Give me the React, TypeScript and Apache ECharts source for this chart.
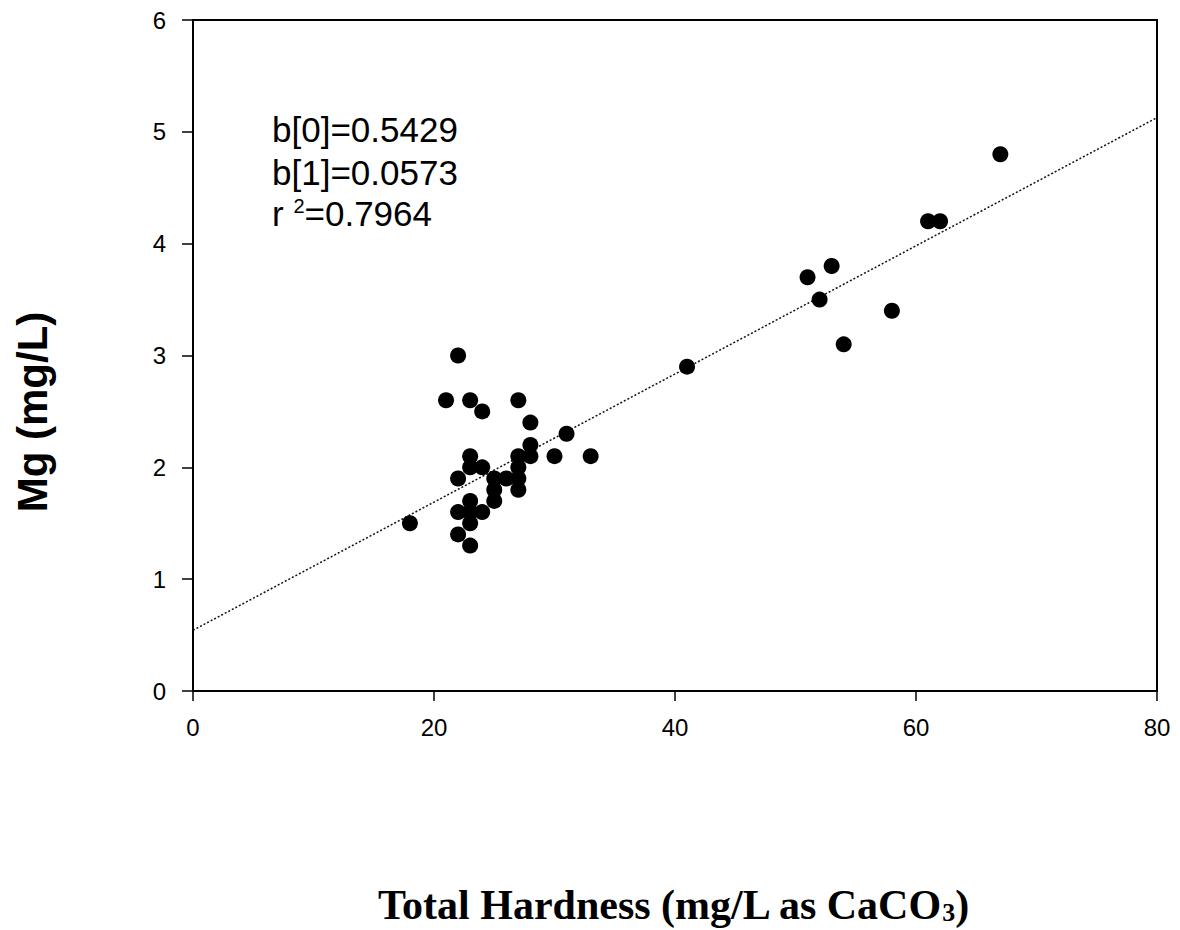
import React, { useEffect, useRef } from "react";
import * as echarts from "echarts";

// Observed samples: Total Hardness (mg/L as CaCO3) vs Mg (mg/L)
const hardness = [
  18, 21, 22, 22, 22, 22, 23, 23, 23, 23, 23, 23, 23, 24, 24, 24, 25, 25, 25, 26,
  27, 27, 27, 27, 27, 28, 28, 28, 30, 31, 33, 41, 51, 52, 53, 54, 58, 61, 62, 67,
];
const magnesium = [
  1.5, 2.6, 3.0, 1.9, 1.6, 1.4, 2.6, 2.1, 2.0, 1.7, 1.6, 1.5, 1.3, 2.5, 2.0, 1.6, 1.9, 1.8, 1.7, 1.9,
  2.6, 2.1, 2.0, 1.9, 1.8, 2.4, 2.2, 2.1, 2.1, 2.3, 2.1, 2.9, 3.7, 3.5, 3.8, 3.1, 3.4, 4.2, 4.2, 4.8,
];

// Regression coefficients as printed on the chart
const b0 = 0.5429;
const b1 = 0.0573;
const r2 = "0.7964";
const fitRange = [0, 80];

const xTicks = { min: 0, max: 80, interval: 20 };
const yTicks = { min: 0, max: 6, interval: 1 };

export default function App() {
  const ref = useRef<HTMLDivElement>(null);

  useEffect(() => {
    if (!ref.current) return;
    const chart = echarts.init(ref.current, null, { renderer: "svg" });

    const points = hardness.map((x, i) => [x, magnesium[i]]);
    const fitLine = fitRange.map((x) => [x, b0 + b1 * x]);

    const labelFont = "'Liberation Sans', Arial, sans-serif";

    chart.setOption({
      animation: false,
      backgroundColor: "#fff",
      grid: {
        left: 193,
        right: 23,
        top: 20,
        bottom: 239,
        show: true,
        borderColor: "#000",
        borderWidth: 2,
        backgroundColor: "transparent",
      },
      xAxis: {
        type: "value",
        min: xTicks.min,
        max: xTicks.max,
        interval: xTicks.interval,
        axisLine: { show: true, onZero: false, lineStyle: { color: "#000", width: 2 } },
        axisTick: { show: true, inside: false, length: 10, lineStyle: { color: "#000", width: 1.5 } },
        axisLabel: { color: "#000", fontSize: 24, fontFamily: labelFont, margin: 24 },
        splitLine: { show: false },
      },
      yAxis: {
        type: "value",
        min: yTicks.min,
        max: yTicks.max,
        interval: yTicks.interval,
        axisLine: { show: true, onZero: false, lineStyle: { color: "#000", width: 2 } },
        axisTick: { show: true, inside: false, length: 11, lineStyle: { color: "#000", width: 1.5 } },
        axisLabel: { color: "#000", fontSize: 24, fontFamily: labelFont, margin: 27 },
        splitLine: { show: false },
      },
      series: [
        {
          type: "line",
          data: fitLine,
          showSymbol: false,
          symbol: "none",
          lineStyle: { color: "#111", width: 1.5, type: [2, 2] },
          z: 1,
        },
        {
          type: "scatter",
          data: points,
          symbol: "circle",
          symbolSize: 16,
          itemStyle: { color: "#000", opacity: 1 },
          z: 2,
        },
      ],
      graphic: [
        {
          type: "text",
          left: 272,
          top: 112,
          style: {
            text: `b[0]=${b0.toFixed(4)}`,
            font: `35px ${labelFont}`,
            fill: "#000",
          },
        },
        {
          type: "text",
          left: 272,
          top: 155,
          style: {
            text: `b[1]=${b1.toFixed(4)}`,
            font: `35px ${labelFont}`,
            fill: "#000",
          },
        },
        {
          type: "text",
          left: 272,
          top: 196,
          style: {
            text: `r {sup|2}=${r2}`,
            font: `35px ${labelFont}`,
            fill: "#000",
            rich: {
              sup: {
                fontSize: 20,
                fontFamily: labelFont,
                verticalAlign: "top",
                padding: [0, 0, 15, 0],
                fill: "#000",
              },
            },
          },
        },
        {
          type: "text",
          x: 32,
          y: 412,
          rotation: Math.PI / 2,
          style: {
            text: "Mg (mg/L)",
            font: `bold 42px ${labelFont}`,
            fill: "#000",
            align: "center",
            verticalAlign: "middle",
          },
        },
        {
          type: "text",
          x: 673,
          y: 905,
          style: {
            text: "Total Hardness (mg/L as CaCO{sub|3})",
            font: "bold 42px 'Liberation Serif', 'Times New Roman', serif",
            fill: "#000",
            align: "center",
            verticalAlign: "middle",
            rich: {
              sub: {
                fontSize: 26,
                fontWeight: "bold",
                fontFamily: "'Liberation Serif', 'Times New Roman', serif",
                padding: [14, 0, 0, 0],
                fill: "#000",
              },
            },
          },
        },
      ],
    });

    return () => chart.dispose();
  }, []);

  return (
    <div
      ref={ref}
      style={{ position: "fixed", left: 0, top: 0, width: 1180, height: 930, background: "#fff" }}
    />
  );
}
